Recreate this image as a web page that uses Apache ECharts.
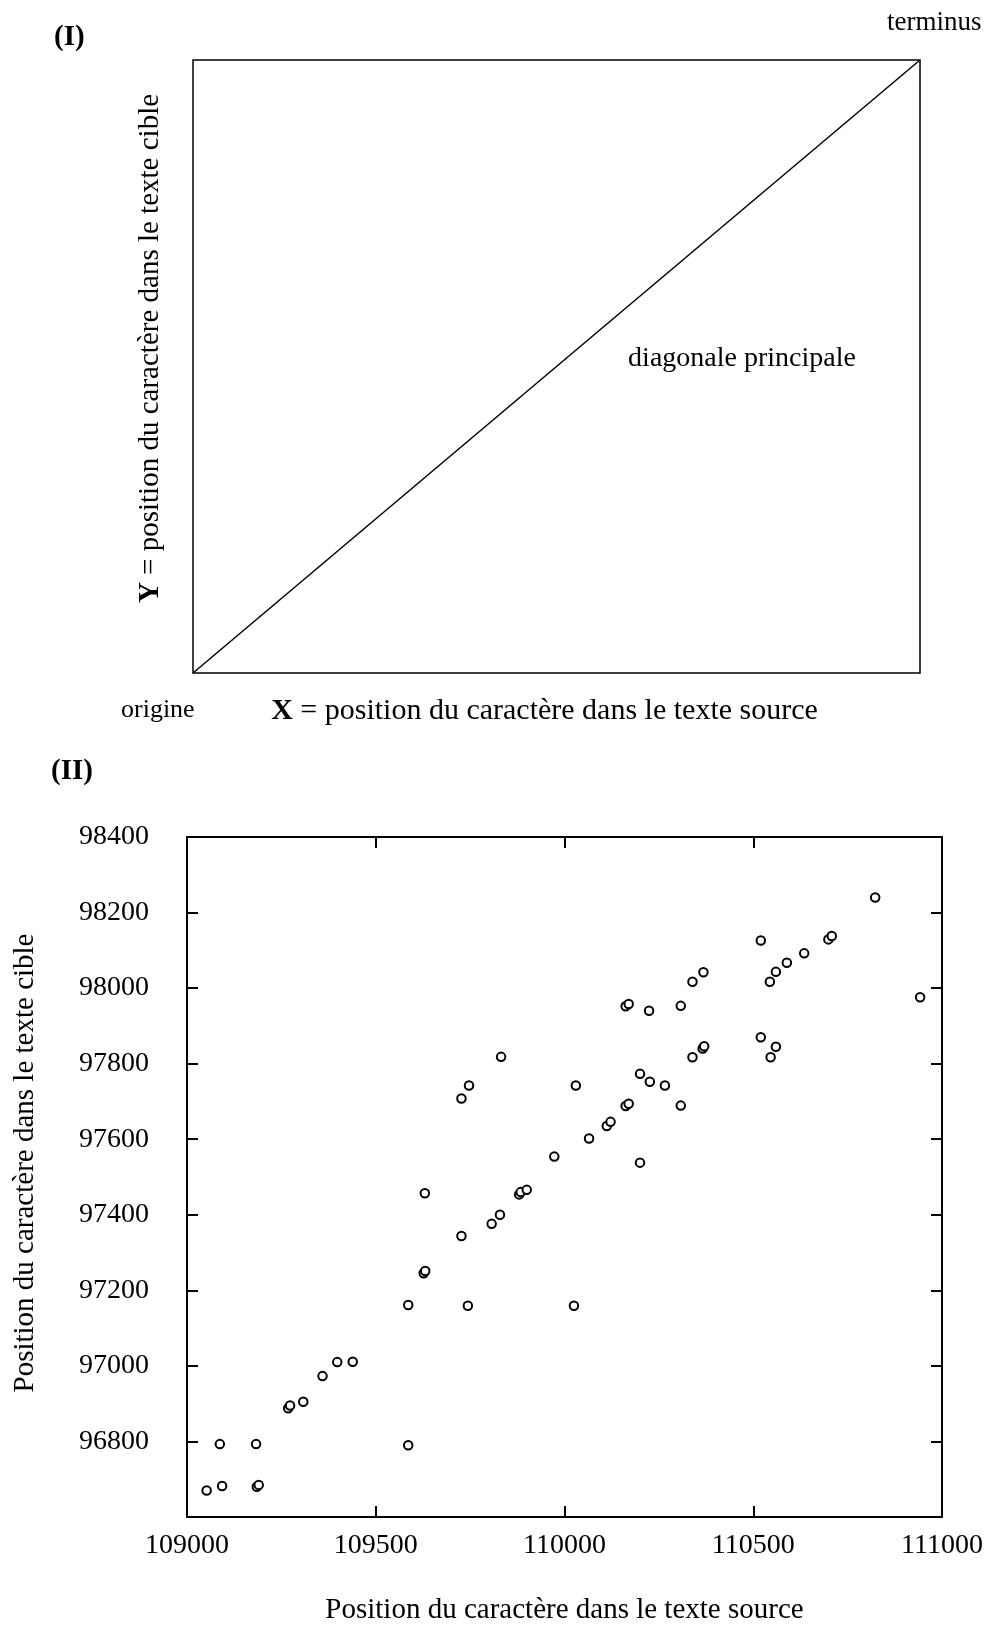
<!DOCTYPE html>
<html>
<head>
<meta charset="utf-8">
<script src="https://cdn.jsdelivr.net/npm/echarts@6/dist/echarts.min.js"></script>
<style>
html,body{margin:0;padding:0;background:#fff;}
#c{width:989px;height:1625px;}
</style>
</head>
<body>
<div id="c"></div>
<script>
// Panel I: schematic diagonal (origine -> terminus), normalised coordinates
var diagX = [0, 1];
var diagY = [0, 1];

// Panel II: observed alignment points
var srcPos = [109052,109093,109185,109190,109087,109183,109586,109268,109273,109308,
  109359,109398,109439,109586,109744,110025,109627,109631,109727,109807,
  109829,109630,109880,109884,109900,109973,110200,110065,110112,110122,
  110162,110170,110308,110030,109747,109727,109832,110200,110226,110266,
  110339,110366,110370,110520,110546,110560,110162,110170,110224,110308,
  110339,110368,110520,110544,110560,110589,110635,110699,110708,110823,
  110942];
var tgtPos = [96670,96682,96680,96685,96793,96793,96790,96888,96895,96905,
  96973,97010,97011,97161,97159,97159,97245,97251,97344,97376,
  97400,97457,97454,97460,97466,97554,97538,97602,97635,97646,
  97688,97694,97689,97742,97742,97708,97818,97773,97752,97742,
  97817,97840,97846,97870,97817,97845,97952,97958,97940,97953,
  98017,98042,98126,98017,98043,98067,98092,98129,98138,98240,
  97976];

var xTicks = [109000, 109500, 110000, 110500, 111000];
var yTicks = [96600, 96800, 97000, 97200, 97400, 97600, 97800, 98000, 98200, 98400];

var FF = "'Liberation Serif','Times New Roman',serif";

var diagData = diagX.map(function(v, i){ return [v, diagY[i]]; });
var pts = srcPos.map(function(v, i){ return [v, tgtPos[i]]; });

var axLine = {show:true, lineStyle:{color:'#000', width:2}};
var axTick = {show:true, inside:true, length:11, lineStyle:{color:'#000', width:2}};
var plain = function(v){ return String(v); };

var chart = echarts.init(document.getElementById('c'), null, {renderer:'canvas'});
chart.setOption({
  backgroundColor:'#fff',
  animation:false,
  grid:[
    {left:193, top:60, width:727, height:613, show:true, borderColor:'#000', borderWidth:1.5,
     backgroundColor:'transparent', containLabel:false, outerBoundsMode:'none'},
    {left:187, top:837, width:755, height:680, show:false, containLabel:false, outerBoundsMode:'none'}
  ],
  xAxis:[
    {gridIndex:0, type:'value', min:0, max:1,
     axisLine:{show:false}, axisTick:{show:false}, axisLabel:{show:false}, splitLine:{show:false},
     name:'{b|X} = position du caractère dans le texte source',
     nameLocation:'middle', nameGap:23,
     nameTextStyle:{fontFamily:FF, fontSize:30, color:'#000', padding:[0,24,0,0],
       rich:{b:{fontFamily:FF, fontSize:30, fontWeight:'bold', color:'#000'}}}},
    {gridIndex:1, type:'value', position:'bottom',
     min:xTicks[0], max:xTicks[xTicks.length-1], interval:xTicks[1]-xTicks[0],
     axisLine:axLine, axisTick:axTick, splitLine:{show:false},
     axisLabel:{fontFamily:FF, fontSize:28, color:'#000', margin:15, formatter:plain},
     name:'Position du caractère dans le texte source',
     nameLocation:'middle', nameGap:79,
     nameTextStyle:{fontFamily:FF, fontSize:29, color:'#000'}},
    {gridIndex:1, type:'value', position:'top',
     min:xTicks[0], max:xTicks[xTicks.length-1], interval:xTicks[1]-xTicks[0],
     axisLine:axLine, axisTick:axTick, splitLine:{show:false}, axisLabel:{show:false}}
  ],
  yAxis:[
    {gridIndex:0, type:'value', min:0, max:1,
     axisLine:{show:false}, axisTick:{show:false}, axisLabel:{show:false}, splitLine:{show:false},
     name:'{b|Y} = position du caractère dans le texte cible',
     nameLocation:'middle', nameGap:28, nameRotate:90,
     nameTextStyle:{fontFamily:FF, fontSize:29, color:'#000', padding:[0,0,0,36],
       rich:{b:{fontFamily:FF, fontSize:29, fontWeight:'bold', color:'#000'}}}},
    {gridIndex:1, type:'value', position:'left',
     min:yTicks[0], max:yTicks[yTicks.length-1], interval:yTicks[1]-yTicks[0],
     axisLine:axLine, axisTick:axTick, splitLine:{show:false},
     axisLabel:{fontFamily:FF, fontSize:28, color:'#000', margin:38, showMinLabel:false, formatter:plain},
     name:'Position du caractère dans le texte cible',
     nameLocation:'middle', nameGap:147, nameRotate:90,
     nameTextStyle:{fontFamily:FF, fontSize:29, color:'#000', padding:[0,0,0,28]}},
    {gridIndex:1, type:'value', position:'right',
     min:yTicks[0], max:yTicks[yTicks.length-1], interval:yTicks[1]-yTicks[0],
     axisLine:axLine, axisTick:axTick, splitLine:{show:false}, axisLabel:{show:false}}
  ],
  series:[
    {type:'line', xAxisIndex:0, yAxisIndex:0, data:diagData, symbol:'none',
     lineStyle:{color:'#000', width:1.5}, silent:true},
    {type:'scatter', xAxisIndex:1, yAxisIndex:1, data:pts, symbol:'circle', symbolSize:8.5,
     itemStyle:{color:'#fff', borderColor:'#000', borderWidth:2, opacity:1}}
  ],
  graphic:[
    {type:'text', x:54, y:38, style:{text:'(I)', fontFamily:FF, fontSize:29, fontWeight:'bold', fill:'#000', verticalAlign:'middle', align:'left'}},
    {type:'text', x:51, y:772, style:{text:'(II)', fontFamily:FF, fontSize:29, fontWeight:'bold', fill:'#000', verticalAlign:'middle', align:'left'}},
    {type:'text', x:887, y:23, style:{text:'terminus', fontFamily:FF, fontSize:27, fill:'#000', verticalAlign:'middle', align:'left'}},
    {type:'text', x:121, y:710, style:{text:'origine', fontFamily:FF, fontSize:26, fill:'#000', verticalAlign:'middle', align:'left'}},
    {type:'text', x:742, y:359, style:{text:'diagonale principale', fontFamily:FF, fontSize:28, fill:'#000', verticalAlign:'middle', align:'center'}}
  ]
});
</script>
</body>
</html>
